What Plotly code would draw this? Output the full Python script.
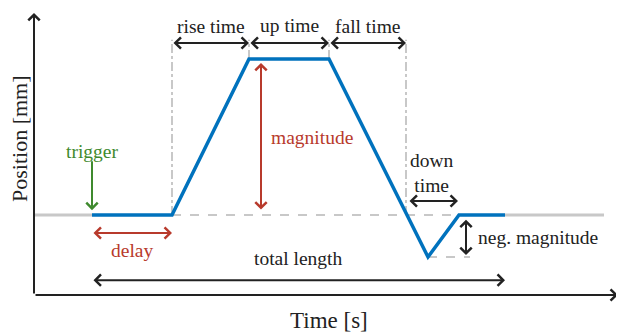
import plotly.graph_objects as go

# schematic units: time [s] on x, position [mm] on y
t_trigger = 1.45
t_rise = 3.45
t_up = 5.375
t_fall = 7.375
t_down = 9.3
t_min = 9.85
t_back = 10.625
t_end = 11.775
t_gray_end = 14.25

pos_base = 2.0
pos_peak = 5.9
pos_neg = 0.95

profile_t = [t_trigger, t_rise, t_up, t_fall, t_min, t_back, t_end]
profile_pos = [pos_base, pos_base, pos_peak, pos_peak, pos_neg, pos_base, pos_base]

BLUE = '#0072BD'
GRAY = '#c8c8c8'
RED = '#b83a2c'
GREEN = '#3f8a2e'
INK = '#222222'
FONT = 'Liberation Serif, DejaVu Serif, Times New Roman, serif'

fig = go.Figure()

# gray rest level before trigger / after the profile
fig.add_trace(go.Scatter(x=[0, t_trigger], y=[pos_base, pos_base], mode='lines',
                         line=dict(color=GRAY, width=3)))
fig.add_trace(go.Scatter(x=[t_end, t_gray_end], y=[pos_base, pos_base], mode='lines',
                         line=dict(color=GRAY, width=3)))

# guide lines
fig.add_trace(go.Scatter(x=[t_rise, t_back], y=[pos_base, pos_base], mode='lines',
                         line=dict(color=GRAY, width=2, dash='dash')))
fig.add_trace(go.Scatter(x=[t_min, 10.9], y=[pos_neg, pos_neg], mode='lines',
                         line=dict(color=GRAY, width=2, dash='dash')))
for tx, y0 in [(t_rise, pos_base), (t_up, pos_peak), (t_fall, pos_peak), (t_down, pos_base)]:
    fig.add_trace(go.Scatter(x=[tx, tx], y=[y0, 6.38], mode='lines',
                             line=dict(color=GRAY, width=2, dash='dashdot')))

# the profile itself
fig.add_trace(go.Scatter(x=profile_t, y=profile_pos, mode='lines',
                         line=dict(color=BLUE, width=3.5)))


def arrow(x0, y0, x1, y1, color=INK, both=True, width=2):
    fig.add_annotation(x=x1, y=y1, ax=x0, ay=y0, xref='x', yref='y', axref='x', ayref='y',
                       text='', showarrow=True, arrowhead=4, startarrowhead=4,
                       arrowside='end+start' if both else 'end',
                       arrowsize=1.1, startarrowsize=1.1, arrowwidth=width,
                       arrowcolor=color, standoff=0, startstandoff=0)


def label(x, y, txt, color=INK, size=19.5, angle=0):
    fig.add_annotation(x=x, y=y, xref='x', yref='y', text=txt, showarrow=False,
                       font=dict(family=FONT, size=size, color=color), textangle=angle)


# axes
arrow(0, 0, 0, 7.05, both=False)
arrow(0, 0, 14.6, 0, both=False)
label(7.375, -0.64, 'Time [s]', size=23)
label(-0.38, 3.92, 'Position [mm]', size=22, angle=-90)

# timing arrows on top
arrow(t_rise, 6.3, t_up, 6.3)
arrow(t_up, 6.3, t_fall, 6.3)
arrow(t_fall, 6.3, t_down, 6.3)
label((t_rise + t_up) / 2, 6.72, 'rise time')
label((t_up + t_fall) / 2, 6.75, 'up time')
label((t_fall + t_down) / 2, 6.72, 'fall time')

# magnitude
arrow(5.675, 2.1, 5.675, 5.8, color=RED)
label(6.95, 3.95, 'magnitude', color=RED)

# trigger & delay
arrow(t_trigger, 3.38, t_trigger, 2.12, color=GREEN, both=False)
label(t_trigger, 3.6, 'trigger', color=GREEN)
arrow(t_trigger, 1.55, t_rise, 1.55, color=RED)
label((t_trigger + t_rise) / 2, 1.12, 'delay', color=RED)

# down time & neg. magnitude
label(9.95, 3.05, 'down<br>time')
arrow(9.35, 2.35, 10.6, 2.35)
arrow(10.8, 1.92, 10.8, 1.0)
label(12.6, 1.43, 'neg. magnitude')

# total length
arrow(t_trigger, 0.37, t_end, 0.37)
label(6.6, 0.92, 'total length')

# page body adds 8px on top/left, ranges shifted to compensate
fig.update_layout(width=624, height=332, margin=dict(l=0, r=0, t=0, b=0),
                  showlegend=False, plot_bgcolor='white', paper_bgcolor='white')
fig.update_xaxes(range=[-0.65, 14.95], visible=False)
fig.update_yaxes(range=[-1.125, 7.175], visible=False)

fig.write_html("out.html")
